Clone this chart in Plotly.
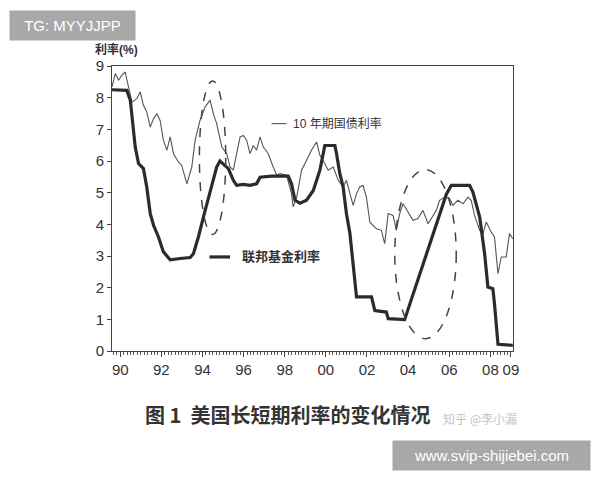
import plotly.graph_objects as go

# 联邦基金利率 (thick line): decimal year, percent
ff_year = [1989.60, 1990.32, 1990.49, 1990.65, 1990.73, 1990.89, 1991.13, 1991.29, 1991.46,
           1991.62, 1991.86, 1992.10, 1992.43, 1992.91, 1993.40, 1993.56, 1993.80, 1994.13,
           1994.45, 1994.69, 1994.85, 1995.02, 1995.26, 1995.50, 1995.66, 1995.99, 1996.31,
           1996.63, 1996.80, 1997.36, 1998.17, 1998.33, 1998.50, 1998.74, 1999.06, 1999.39,
           1999.55, 1999.71, 1999.95, 2000.44, 2000.52, 2000.68, 2000.84, 2001.00, 2001.17,
           2001.33, 2001.49, 2002.22, 2002.38, 2002.94, 2003.03, 2003.83, 2005.86, 2006.10,
           2006.99, 2007.15, 2007.48, 2007.72, 2007.88, 2008.12, 2008.20, 2008.37, 2009.09]
ff_rate = [8.25, 8.23, 7.92, 7.07, 6.44, 5.92, 5.76, 5.18, 4.34,
           3.97, 3.60, 3.13, 2.88, 2.92, 2.95, 3.07, 3.60, 4.44,
           5.28, 5.81, 6.00, 5.89, 5.76, 5.39, 5.23, 5.26, 5.23,
           5.28, 5.49, 5.52, 5.52, 5.28, 4.76, 4.67, 4.76, 5.07,
           5.39, 5.71, 6.49, 6.49, 6.23, 5.60, 5.18, 4.34, 3.71,
           2.65, 1.71, 1.71, 1.28, 1.23, 1.02, 0.99, 4.95, 5.23,
           5.23, 5.02, 4.23, 3.07, 2.02, 1.97, 1.49, 0.21, 0.18]

# 10年期国债利率 (thin line)
tn_year = [1989.60, 1989.76, 1989.92, 1990.08, 1990.24, 1990.40, 1990.57, 1990.81, 1990.97,
           1991.13, 1991.29, 1991.46, 1991.62, 1991.78, 1991.94, 1992.10, 1992.27, 1992.43,
           1992.59, 1992.83, 1992.99, 1993.24, 1993.48, 1993.64, 1993.88, 1994.13, 1994.37,
           1994.53, 1994.69, 1994.94, 1995.18, 1995.34, 1995.50, 1995.66, 1995.83, 1995.99,
           1996.15, 1996.31, 1996.47, 1996.63, 1996.80, 1996.96, 1997.20, 1997.44, 1997.61,
           1997.77, 1998.09, 1998.33, 1998.41, 1998.58, 1998.82, 1999.06, 1999.30, 1999.55,
           1999.71, 1999.95, 2000.11, 2000.36, 2000.60, 2000.84, 2001.00, 2001.17, 2001.33,
           2001.49, 2001.65, 2001.81, 2001.97, 2002.14, 2002.30, 2002.46, 2002.70, 2002.86,
           2003.03, 2003.27, 2003.43, 2003.59, 2003.75, 2004.00, 2004.24, 2004.48, 2004.72,
           2004.97, 2005.21, 2005.37, 2005.53, 2005.78, 2006.02, 2006.18, 2006.42, 2006.67,
           2006.91, 2007.07, 2007.23, 2007.48, 2007.64, 2007.80, 2008.04, 2008.20, 2008.37,
           2008.53, 2008.77, 2008.93, 2009.09]
tn_rate = [8.34, 8.76, 8.55, 8.71, 8.81, 8.34, 7.86, 7.97, 8.18,
           7.76, 7.55, 7.07, 7.34, 7.49, 7.28, 6.65, 6.34, 6.76,
           6.23, 5.97, 5.86, 5.28, 5.81, 6.65, 7.28, 7.71, 7.92,
           7.49, 7.18, 6.44, 6.23, 5.81, 5.71, 6.23, 6.76, 6.81,
           6.65, 6.23, 6.49, 6.34, 6.76, 6.44, 6.23, 5.81, 5.55,
           5.60, 5.55, 4.97, 4.55, 4.86, 5.71, 6.02, 6.34, 6.60,
           6.18, 5.92, 5.71, 5.81, 5.39, 5.18, 5.39, 4.97, 4.60,
           4.97, 5.18, 5.23, 4.86, 4.07, 3.97, 3.86, 3.81, 3.39,
           4.34, 4.28, 3.81, 4.34, 4.65, 4.39, 4.13, 4.18, 4.44,
           4.02, 4.28, 4.44, 4.76, 4.86, 4.81, 4.60, 4.76, 4.65,
           4.86, 4.76, 4.28, 3.81, 3.71, 4.07, 3.76, 3.60, 2.44,
           2.97, 2.97, 3.71, 3.55]

tick_vals = [1990, 1992, 1994, 1996, 1998, 2000, 2002, 2004, 2006, 2008, 2009]
tick_text = ["90", "92", "94", "96", "98", "00", "02", "04", "06", "08", "09"]

ink = "#2b2b2b"
thin = "#555555"

# page body has an 8px margin, so the plot box is offset accordingly
ML, MT, MR, MB = 104, 58, 95, 137
pw, ph = 600 - ML - MR, 480 - MT - MB


def px(x):
    # window pixel x -> paper x
    return (x - 8 - ML) / pw


def py(y):
    # window pixel y -> paper y
    return (480 - MB - (y - 8)) / ph


fig = go.Figure()
fig.add_trace(go.Scatter(x=tn_year, y=tn_rate, mode="lines",
                         line=dict(color=thin, width=1.1), hoverinfo="skip"))
fig.add_trace(go.Scatter(x=ff_year, y=ff_rate, mode="lines",
                         line=dict(color=ink, width=3.2), hoverinfo="skip"))

# dashed ellipses highlighting the two episodes
fig.add_shape(type="circle", xref="x", yref="y", x0=1993.85, x1=1995.13, y0=3.68, y1=8.53,
              line=dict(color="#444", width=1.5, dash="dash"))
fig.add_shape(type="circle", xref="x", yref="y", x0=2003.35, x1=2006.34, y0=0.39, y1=5.73,
              line=dict(color="#444", width=1.5, dash="dash"))

# in-plot legend
fig.add_shape(type="line", xref="x", yref="y", x0=1997.36, x1=1998.09, y0=7.18, y1=7.18,
              line=dict(color=thin, width=1.1))
fig.add_annotation(x=1998.3, y=7.18, xref="x", yref="y", text="10 年期国债利率",
                   showarrow=False, xanchor="left", font=dict(size=12, color="#333"))
fig.add_shape(type="line", xref="x", yref="y", x0=1994.34, x1=1995.34, y0=2.97, y1=2.97,
              line=dict(color=ink, width=3.2))
fig.add_annotation(x=1995.83, y=2.97, xref="x", yref="y", text="<b>联邦基金利率</b>",
                   showarrow=False, xanchor="left", font=dict(size=13, color="#333"))

# axis title
fig.add_annotation(x=px(93), y=py(49), xref="paper", yref="paper", text="<b>利率(%)</b>",
                   showarrow=False, xanchor="left", yanchor="middle",
                   font=dict(size=12, color="#333"))

# caption
fig.add_annotation(x=px(287), y=py(414), xref="paper", yref="paper",
                   text="<b>图 1  美国长短期利率的变化情况</b>", showarrow=False,
                   xanchor="center", yanchor="middle",
                   font=dict(size=20, color="#333", family="Noto Sans CJK SC"))

# watermarks
fig.add_annotation(x=px(72.5), y=py(25), xref="paper", yref="paper", text="TG: MYYJJPP",
                   showarrow=False, xanchor="center", yanchor="middle", bgcolor="#a8a8a8",
                   font=dict(size=15, color="white"), borderpad=6, width=113)
fig.add_annotation(x=px(491.5), y=py(455), xref="paper", yref="paper",
                   text="www.svip-shijiebei.com", showarrow=False, xanchor="center",
                   yanchor="middle", bgcolor="#a8a8a8", font=dict(size=15, color="white"),
                   borderpad=6, width=185)
fig.add_annotation(x=px(480), y=py(418), xref="paper", yref="paper", text="知乎 @李小漏",
                   showarrow=False, xanchor="center", yanchor="middle",
                   font=dict(size=12, color="#c4c4c4", family="Noto Sans CJK SC"))

fig.update_layout(
    width=600, height=480,
    margin=dict(l=ML, r=MR, t=MT, b=MB),
    paper_bgcolor="white", plot_bgcolor="white",
    showlegend=False,
    font=dict(family="Liberation Sans, Noto Sans CJK SC", color="#333"),
    xaxis=dict(range=[1989.6, 2009.1], tickvals=tick_vals, ticktext=tick_text,
               showgrid=False, zeroline=False, showline=True, linecolor="#444", linewidth=1,
               mirror=True, ticks="outside", ticklen=5, tickcolor="#444",
               tickfont=dict(size=15, color="#333"),
               minor=dict(ticks="outside", ticklen=3, tick0=1990, dtick=1 / 6,
                          tickcolor="#555", showgrid=False)),
    yaxis=dict(range=[0, 9], dtick=1, showgrid=False, zeroline=False, showline=True,
               linecolor="#444", linewidth=1, mirror=True, ticks="outside", ticklen=4,
               tickcolor="#444", tickfont=dict(size=15, color="#333")),
)

fig.write_html("out.html")
